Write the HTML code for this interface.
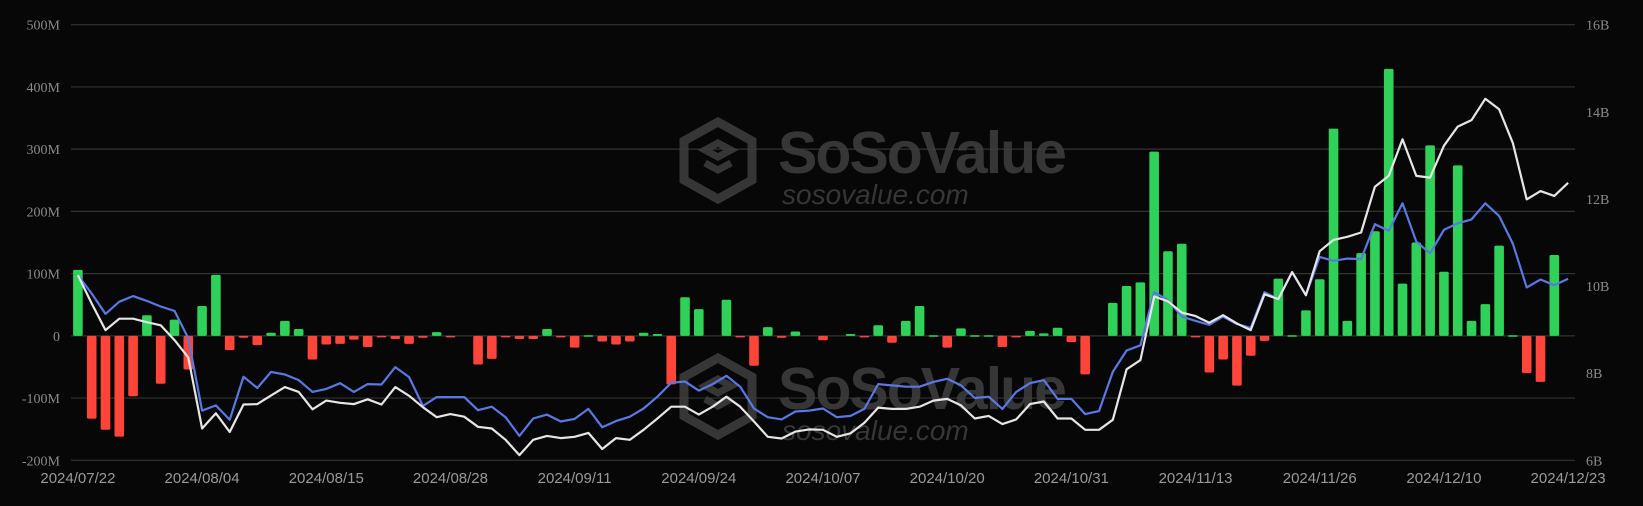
<!DOCTYPE html>
<html><head><meta charset="utf-8"><style>
html,body{margin:0;padding:0;background:#070707;}
svg{display:block;}
</style></head><body>
<svg id="chart" width="1643" height="506" viewBox="0 0 1643 506" xmlns="http://www.w3.org/2000/svg">
<rect x="0" y="0" width="1643" height="506" fill="#070707"/>
<g id="grid"></g>
<g id="watermarks" fill="#3c3c3c" font-family="Liberation Sans, sans-serif">
  <g opacity="0.9">
    <polygon points="718,122 752,141 752,180 718,199 684,180 684,141" fill="none" stroke="#3c3c3c" stroke-width="9"/>
    <path d="M705,150 L718,143 L731,150 L718,157 Z M705,163 L718,170 L731,163" fill="none" stroke="#3c3c3c" stroke-width="7"/>
    <text x="778" y="173" font-size="59" font-weight="bold" letter-spacing="-2">SoSoValue</text>
    <text x="782" y="204" font-size="28" font-style="italic">sosovalue.com</text>
  </g>
  <g opacity="0.9">
    <polygon points="718,358 752,377 752,416 718,435 684,416 684,377" fill="none" stroke="#3c3c3c" stroke-width="9"/>
    <path d="M705,386 L718,379 L731,386 L718,393 Z M705,399 L718,406 L731,399" fill="none" stroke="#3c3c3c" stroke-width="7"/>
    <text x="778" y="409" font-size="59" font-weight="bold" letter-spacing="-2">SoSoValue</text>
    <text x="782" y="440" font-size="28" font-style="italic">sosovalue.com</text>
  </g>
</g>
<g id="bars"></g>
<g id="lines"></g>
<g id="axes"></g>
</svg>
<script>
const dates = ["2024/07/22","2024/08/04","2024/08/15","2024/08/28","2024/09/11","2024/09/24","2024/10/07","2024/10/20","2024/10/31","2024/11/13","2024/11/26","2024/12/10","2024/12/23"];
const labelIdx = [0,9,18,27,36,45,54,63,72,81,90,99,108];
const leftTicks = [-200,-100,0,100,200,300,400,500];
const leftTickLabels = ["-200M","-100M","0","100M","200M","300M","400M","500M"];
const rightTicks = [6,8,10,12,14,16];
const rightTickLabels = ["6B","8B","10B","12B","14B","16B"];
const flows = [106,-133,-151,-162,-97,33,-77,26,-54,48,98,-23,-3,-15,5,24,11,-38,-14,-13,-6,-18,-1,-5,-13,-3,6,-2,0,-46,-37,-1,-5,-5,11,-1,-19,1,-9,-14,-9,5,3,-78,62,43,0,58,-1,-48,14,-3,7,0,-7,0,3,-1,17,-11,24,48,1,-19,12,1,1,-18,-1,8,4,13,-10,-62,0,53,80,86,296,136,148,-1,-59,-38,-80,-32,-8,92,1,41,91,333,24,133,168,429,84,150,306,103,274,24,51,145,1,-60,-74,130,0];
const netAssets = [10.25,9.83,9.36,9.64,9.77,9.66,9.53,9.43,8.80,7.14,7.26,6.93,7.92,7.66,8.03,7.97,7.84,7.57,7.64,7.77,7.57,7.75,7.74,8.14,7.91,7.25,7.45,7.45,7.45,7.15,7.23,6.99,6.56,6.96,7.05,6.89,6.95,7.18,6.76,6.90,7.00,7.19,7.46,7.78,7.81,7.60,7.75,7.94,7.69,7.19,6.99,6.94,7.12,7.14,7.19,6.99,7.02,7.18,7.75,7.72,7.69,7.69,7.80,7.87,7.72,7.43,7.46,7.18,7.57,7.77,7.84,7.41,7.41,7.06,7.13,8.03,8.52,8.64,9.86,9.68,9.30,9.20,9.11,9.30,9.13,9.04,9.86,9.70,10.32,9.79,10.67,10.58,10.63,10.62,11.42,11.27,11.90,11.02,10.75,11.29,11.44,11.53,11.90,11.61,10.97,9.97,10.15,10.02,10.17];
const ethPrice = [10.25,9.60,8.99,9.25,9.25,9.17,9.10,8.76,8.36,6.73,7.08,6.65,7.28,7.29,7.49,7.68,7.57,7.17,7.37,7.32,7.29,7.40,7.28,7.68,7.48,7.22,6.99,7.06,7.00,6.77,6.73,6.47,6.12,6.47,6.56,6.51,6.54,6.63,6.26,6.51,6.47,6.70,6.96,7.23,7.23,7.05,7.23,7.46,7.23,6.89,6.54,6.50,6.66,6.71,6.70,6.54,6.62,6.86,7.21,7.18,7.18,7.23,7.37,7.41,7.26,6.96,7.02,6.83,6.94,7.29,7.35,6.96,6.96,6.70,6.70,6.93,8.09,8.30,9.76,9.65,9.39,9.31,9.16,9.33,9.14,8.99,9.81,9.70,10.32,9.79,10.80,11.06,11.13,11.23,12.28,12.53,13.37,12.53,12.49,13.22,13.66,13.81,14.30,14.06,13.28,11.99,12.18,12.07,12.37];

const NS = "http://www.w3.org/2000/svg";
const X0 = 71, X1 = 1575, YT = 24.7, YB = 460.3;
const N = flows.length;
const band = (X1 - X0) / N;
const xc = i => X0 + band * (i + 0.5);
const yL = v => YB - (v - (-200)) / 700 * (YB - YT);
const yR = v => YB - (v - 6) / 10 * (YB - YT);
function mk(tag, attrs, parent){const e=document.createElementNS(NS,tag);for(const k in attrs)e.setAttribute(k,attrs[k]);parent.appendChild(e);return e;}

const grid = document.getElementById('grid');
const axes = document.getElementById('axes');
leftTicks.forEach((t,i)=>{
  const l = mk('line',{x1:X0,x2:X1,y1:yL(t),y2:yL(t),stroke:'#333',"stroke-width":1.2},grid);
  
  
  const tx = mk('text',{x:60,y:yL(t)+5,"text-anchor":"end",fill:'#8a8a8a',"font-size":14,"font-family":"Liberation Serif, serif"},axes);
  tx.textContent = leftTickLabels[i];
  
  
});
rightTicks.forEach((t,i)=>{
  const tx = mk('text',{x:1586,y:yR(t)+5,fill:'#8a8a8a',"font-size":14,"font-family":"Liberation Serif, serif"},axes);
  tx.textContent = rightTickLabels[i];
  
  
});
dates.forEach((d,i)=>{
  const tx = mk('text',{x:xc(labelIdx[i]),y:483,"text-anchor":"middle",fill:'#9a9a9a',"font-size":15,"font-family":"Liberation Sans, sans-serif"},axes);
  tx.textContent = d;
  
  
});

const bars = document.getElementById('bars');
const y0 = yL(0);
flows.forEach((v,i)=>{
  if(v===0) return;
  const y = yL(v);
  const top = Math.min(y,y0), h = Math.max(Math.abs(y-y0),1.5);
  const r = mk('rect',{x:xc(i)-4.8,y:top,width:9.6,height:h,rx:1.5,fill:v>0?'#30d158':'#ff453a'},bars);
  
  
});

const lines = document.getElementById('lines');
const pts = arr => arr.map((v,i)=>xc(i).toFixed(1)+','+yR(v).toFixed(1)).join(' ');
const blue = mk('polyline',{points:pts(netAssets),fill:'none',stroke:'#5a78e2',"stroke-width":2.2,"stroke-linejoin":"round"},lines);


const white = mk('polyline',{points:pts(ethPrice),fill:'none',stroke:'#e6e6e6',"stroke-width":2.2,"stroke-linejoin":"round"},lines);


</script>
</body></html>
